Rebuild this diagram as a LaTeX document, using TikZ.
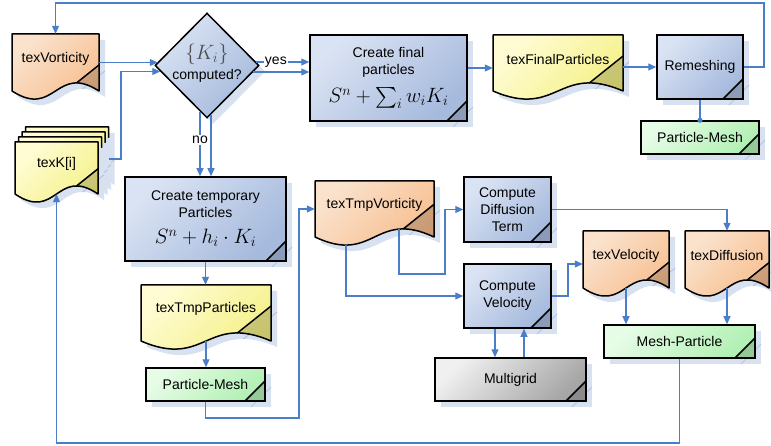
\documentclass[tikz,border=0pt]{standalone}
\usepackage{exscale}
\usepackage[no-math]{fontspec}
\setmainfont{Liberation Sans}
\usetikzlibrary{arrows.meta,calc,shapes.geometric}
\definecolor{arrowc}{RGB}{74,126,200}
\definecolor{shc}{RGB}{216,225,240}
\definecolor{shl}{RGB}{178,197,230}
\definecolor{bl1}{RGB}{218,227,243}
\definecolor{bl2}{RGB}{166,186,221}
\definecolor{or1}{RGB}{250,226,204}
\definecolor{or2}{RGB}{247,186,136}
\definecolor{ye1}{RGB}{255,252,212}
\definecolor{ye2}{RGB}{243,239,126}
\definecolor{gr1}{RGB}{230,252,230}
\definecolor{gr2}{RGB}{178,240,180}
\definecolor{gy1}{RGB}{240,240,240}
\definecolor{gy2}{RGB}{166,166,166}
\definecolor{kgray}{RGB}{80,80,80}
\tikzset{
  bluefill/.style={top color=bl1, bottom color=bl2, shading angle=45},
  orfill/.style={top color=or1, bottom color=or2, shading angle=45},
  yefill/.style={top color=ye1, bottom color=ye2, shading angle=45},
  grfill/.style={top color=gr1, bottom color=gr2, shading angle=45},
  gyfill/.style={top color=gy1, bottom color=gy2, shading angle=45},
  txt/.style={font=\fontsize{14}{17}\selectfont},
  box/.style={rectangle, draw=black, line width=1.5pt, inner sep=0pt, align=center, txt,
    path picture={
      \fill[black,opacity=.16] ($(path picture bounding box.south east)+(-20,0)$) -- ($(path picture bounding box.south east)+(0,-20)$) -- (path picture bounding box.south east) -- cycle;
      \draw[line width=1.5pt] ($(path picture bounding box.south east)+(-20,0)$) -- ($(path picture bounding box.south east)+(0,-20)$);}},
  conn/.style={draw=arrowc, line width=1.1pt, -{Triangle[length=8pt,width=7pt]}},
  cline/.style={draw=arrowc, line width=1.1pt},
  lbl/.style={fill=white, inner sep=1pt, txt},
}
% document shape: name, x1, top, x2, base, fill style, text
\newcommand{\docu}[7]{%
  \pgfmathsetmacro{\dmid}{(#2+#4)/2}%
  \pgfmathsetmacro{\dcx}{#2+0.741*(#4-#2)}%
  \pgfmathsetmacro{\dcy}{#5-8}%
  \pgfmathsetmacro{\dty}{#5-8-0.8*(#4-\dcx)}%
  \pgfmathsetmacro{\dwid}{#4-#2}%
  \pgfmathsetmacro{\dhei}{#5-#3}%
  \fill[shc] (#2+6,#3+6) -- (#4+6,#3+6) -- (#4+6,#5+6) .. controls (\dmid+6,#5-22) and (\dmid+6,#5+34) .. (#2+6,#5+6) -- cycle;
  \draw[shl, line width=1pt] (\dcx+6,\dcy+6) -- (#4+6,\dty+6);
  \path[#6] (#2,#3) -- (#4,#3) -- (#4,#5) .. controls (\dmid,#5-28) and (\dmid,#5+28) .. (#2,#5) -- cycle;
  \begin{scope}
    \clip (#2,#3) -- (#4,#3) -- (#4,#5) .. controls (\dmid,#5-28) and (\dmid,#5+28) .. (#2,#5) -- cycle;
    \fill[black,opacity=.18] (\dcx,\dcy) -- (#4,\dty) -- (#4+5,#5+20) -- (\dcx,#5+20) -- cycle;
  \end{scope}
  \draw[line width=1.5pt, line join=round] (#2,#3) -- (#4,#3) -- (#4,#5) .. controls (\dmid,#5-28) and (\dmid,#5+28) .. (#2,#5) -- cycle;
  \draw[line width=1.5pt] (\dcx,\dcy) -- (#4,\dty);
  \node[inner sep=0pt, minimum width=\dwid pt, minimum height=\dhei pt] (#1) at (\dmid,{(#3+#5)/2}) {};
  \node[txt, inner sep=0pt] (#1t) at (\dmid,{(#3+#5)/2-4}) {#7};
}
% box: name, x1, y1, x2, y2, fill style, text
\newcommand{\boxn}[7]{%
  \fill[shc] (#2+6,#3+6) rectangle (#4+6,#5+6);
  \draw[shl, line width=1pt] (#4-14,#5+6) -- (#4+6,#5-14);
  \pgfmathsetmacro{\bw}{#4-#2}%
  \pgfmathsetmacro{\bh}{#5-#3}%
  \node[box,#6,minimum width=\bw pt,minimum height=\bh pt] (#1) at ({(#2+#4)/2},{(#3+#5)/2}) {#7};
}
\begin{document}
\begin{tikzpicture}[x=1pt,y=-1pt]
\useasboundingbox (0,0) rectangle (771,446);

% documents
\docu{texV}{12}{34}{99}{91}{orfill}{texVorticity}
\docu{texKc}{25.5}{127}{108.5}{179}{yefill}{}
\docu{texKb}{22}{132}{105}{184}{yefill}{}
\docu{texKa}{18.5}{137}{101.5}{189}{yefill}{}
\docu{texK}{15}{142}{98}{194}{yefill}{texK[i]}
\docu{texF}{493}{35}{623}{91}{yefill}{texFinalParticles}
\docu{texTP}{141}{285}{271}{341}{yefill}{texTmpParticles}
\docu{texTV}{315}{181}{434}{237}{orfill}{texTmpVorticity}
\docu{texVel}{583}{231}{669}{288}{orfill}{texVelocity}
\docu{texDiff}{685}{231}{769}{288}{orfill}{texDiffusion}

% decision
\fill[shc] (213,19) -- (265,71.5) -- (213,124) -- (161,71.5) -- cycle;
\node[diamond, draw=black, line width=1.5pt, bluefill, inner sep=0pt, minimum width=104pt, minimum height=105pt] (dia) at (207,65.5) {};
\node[font=\fontsize{20}{24}\selectfont, text=kgray, inner sep=0pt] (diak) at (207,54) {$\{K_i\}$};
\node[txt, inner sep=0pt] (diac) at (207,76) {computed?};

% boxes
\boxn{cfinal}{310}{35}{467}{121}{bluefill}{Create final\\particles\\[9pt]{\fontsize{21}{25}\selectfont$S^n+\sum_i w_iK_i$}}
\boxn{remesh}{657}{35}{743}{99}{bluefill}{Remeshing}
\boxn{pmA}{641}{121}{759}{154}{grfill}{Particle-Mesh}
\boxn{ctemp}{125}{177}{286}{261}{bluefill}{Create temporary\\Particles\\[9pt]{\fontsize{21}{25}\selectfont$S^n+h_i\cdot K_i$}}
\boxn{pmB}{146}{368}{265}{401}{grfill}{Particle-Mesh}
\boxn{cdiff}{464}{177}{551}{242}{bluefill}{Compute\\Diffusion\\Term}
\boxn{cvel}{464}{264}{551}{328}{bluefill}{Compute\\Velocity}
\boxn{mgrid}{435}{358}{586}{401}{gyfill}{Multigrid}
\boxn{meshp}{604}{325}{755}{358}{grfill}{Mesh-Particle}

% connectors
\draw[conn] (remesh.east) -| (764,3) -| (texV.north);
\draw[conn] (texV.east) -- ($(dia.west)+(3.5,-3)$);
\draw[conn] (texKc.east |- 0,159) -- (121,159) |- ($(dia.west)+(6,6)$);
\draw[conn] ($(dia.east)+(-3.5,-3.5)$) -- node[lbl, pos=0.37] (yes) {yes} (cfinal.west |- 0,62);
\draw[conn] ($(dia.east)+(-6.5,6.5)$) -- (cfinal.west |- 0,72);
\draw[conn] ($(dia.south)+(-7,-7)$) -- node[lbl, pos=0.44] (no) {no} (ctemp.north -| 200,0);
\draw[conn] ($(dia.south)+(4,-4)$) -- (ctemp.north -| 211,0);
\draw[conn] (cfinal.east |- 0,68) -- (texF.west |- 0,68);
\draw[conn] (texF.east |- remesh.west) -- (remesh.west);
\draw[cline] (remesh.south) -- (pmA.north);
\fill[arrowc] (pmA.north) circle (2.6);
\draw[conn] (ctemp.south) -- (ctemp.south |- texTP.north);
\draw[conn] (texTP.south) -- (texTP.south |- pmB.north);
\draw[conn] (pmB.south) |- (299,418) |- (texTV.west);
\draw[conn] ($(texTV.south)+(24.5,-8)$) |- (445,274) |- (cdiff.west);
\draw[conn] ($(texTV.south)+(-28.5,8)$) |- (cvel.west);
\draw[conn] (cdiff.east) -| (texDiff.north);
\draw[conn] (cvel.east) -| (568,264) -- (texVel.west |- 0,264);
\draw[conn] (texVel.south) -- (texVel.south |- meshp.north);
\draw[conn] (texDiff.south) -- (texDiff.south |- meshp.north);
\draw[conn] (cvel.south -| 495,0) -- (mgrid.north -| 495,0);
\draw[conn] (mgrid.north -| 524,0) -- (cvel.south -| 524,0);
\draw[conn] (meshp.south) |- (texK.south |- 0,443) -- (texK.south);
\end{tikzpicture}
\end{document}
